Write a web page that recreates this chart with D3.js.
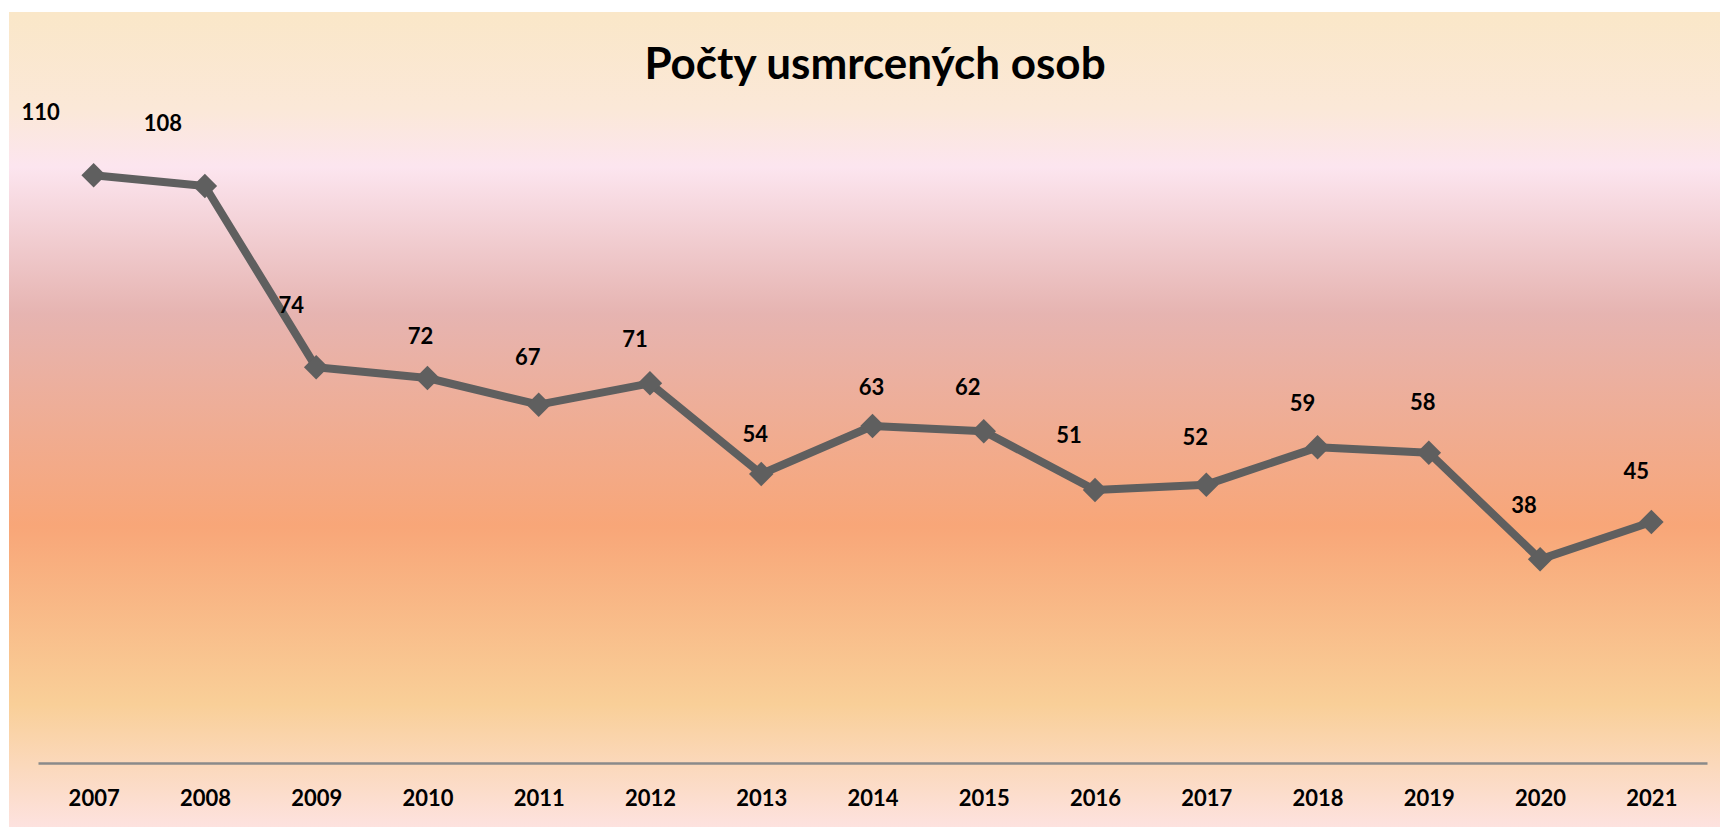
<!DOCTYPE html>
<html>
<head>
<meta charset="utf-8">
<script src="https://cdn.jsdelivr.net/npm/d3@7"></script>
<style>
  body { margin: 0; background: #fff; }
  svg { display: block; }
</style>
</head>
<body>
<svg id="chart"></svg>
<script>
let w = 1721;
let h = 827;

// data
let years = ["2007", "2008", "2009", "2010", "2011", "2012", "2013", "2014",
             "2015", "2016", "2017", "2018", "2019", "2020", "2021"];
let deaths = [110, 108, 74, 72, 67, 71, 54, 63, 62, 51, 52, 59, 58, 38, 45];
let titleText = "Počty usmrcených osob";

// label nudges (dx, dy from the marker), labels were hand-placed in the original
let labelDx = [-53, -42, -25, -7, -11, -15, -6, -1, -16, -26, -11, -15, -6, -16, -15];
let labelDy = [-63, -63, -62, -42, -48, -44, -40, -39, -44, -55, -48, -44, -51, -54, -51];

let chart1 = d3.select("#chart")
    .attr("width", w)
    .attr("height", h);

// background gradient
let defs = chart1.append("defs");
let grad = defs.append("linearGradient")
    .attr("id", "bg")
    .attr("x1", 0).attr("y1", 0)
    .attr("x2", 0).attr("y2", 1);
[
    [0, "#fae7c8"],
    [0.12, "#fbe8d8"],
    [0.19, "#fce5ef"],
    [0.37, "#e6b4b1"],
    [0.63, "#f8a678"],
    [0.85, "#f9cf98"],
    [1, "#fde2df"]
].forEach(s => grad.append("stop").attr("offset", s[0]).attr("stop-color", s[1]));

chart1.append("rect")
    .attr("x", 9)
    .attr("y", 12)
    .attr("width", w - 10)
    .attr("height", h - 12)
    .attr("fill", "url(#bg)");

// scales
let xScale = d3.scalePoint()
    .domain(years)
    .range([38, 1707])
    .padding(0.5);

let yScale = d3.scaleLinear()
    .domain([0, 120])
    .range([762, 122]);

// title
chart1.append("text")
    .attr("x", 875)
    .attr("y", 79)
    .attr("text-anchor", "middle")
    .style("font-family", "Lato, 'Open Sans', sans-serif")
    .style("font-weight", "bold")
    .style("font-size", "44px")
    .attr("fill", "#000")
    .text(titleText);

// x axis
let xAxis = d3.axisBottom(xScale)
    .tickSize(0)
    .tickSizeOuter(0);

let xAxisGroup = chart1.append("g")
    .attr("transform", `translate(0, ${yScale(0) + 1})`)
    .call(xAxis);

xAxisGroup.select(".domain")
    .attr("stroke", "#8a8a8a")
    .attr("stroke-width", 2.5);

xAxisGroup.selectAll("text")
    .attr("dy", null)
    .attr("y", 43)
    .attr("fill", "#000")
    .style("font-family", "Lato, 'Open Sans', sans-serif")
    .style("font-weight", "bold")
    .style("font-size", "22px");

let points = years.map((y, i) => ({ year: y, value: deaths[i], i: i }));

// line
chart1.append("path")
    .datum(points)
    .attr("fill", "none")
    .attr("stroke", "#5f5f5f")
    .attr("stroke-width", 8)
    .attr("stroke-linejoin", "round")
    .attr("d", d3.line()
        .x(d => xScale(d.year))
        .y(d => yScale(d.value)));

// diamond markers
chart1.selectAll(".marker")
    .data(points)
    .enter()
    .append("path")
    .attr("class", "marker")
    .attr("d", d3.symbol().type(d3.symbolSquare).size(300))
    .attr("transform", d => `translate(${xScale(d.year)}, ${yScale(d.value)}) rotate(45)`)
    .attr("fill", "#5f5f5f");

// data labels
chart1.selectAll(".lbl")
    .data(points)
    .enter()
    .append("text")
    .attr("class", "lbl")
    .attr("x", d => xScale(d.year) + labelDx[d.i])
    .attr("y", d => yScale(d.value) + labelDy[d.i])
    .attr("dy", "0.36em")
    .attr("text-anchor", "middle")
    .style("font-family", "Lato, 'Open Sans', sans-serif")
    .style("font-weight", "bold")
    .style("font-size", "22px")
    .attr("fill", "#000")
    .text(d => d.value);
</script>
</body>
</html>
